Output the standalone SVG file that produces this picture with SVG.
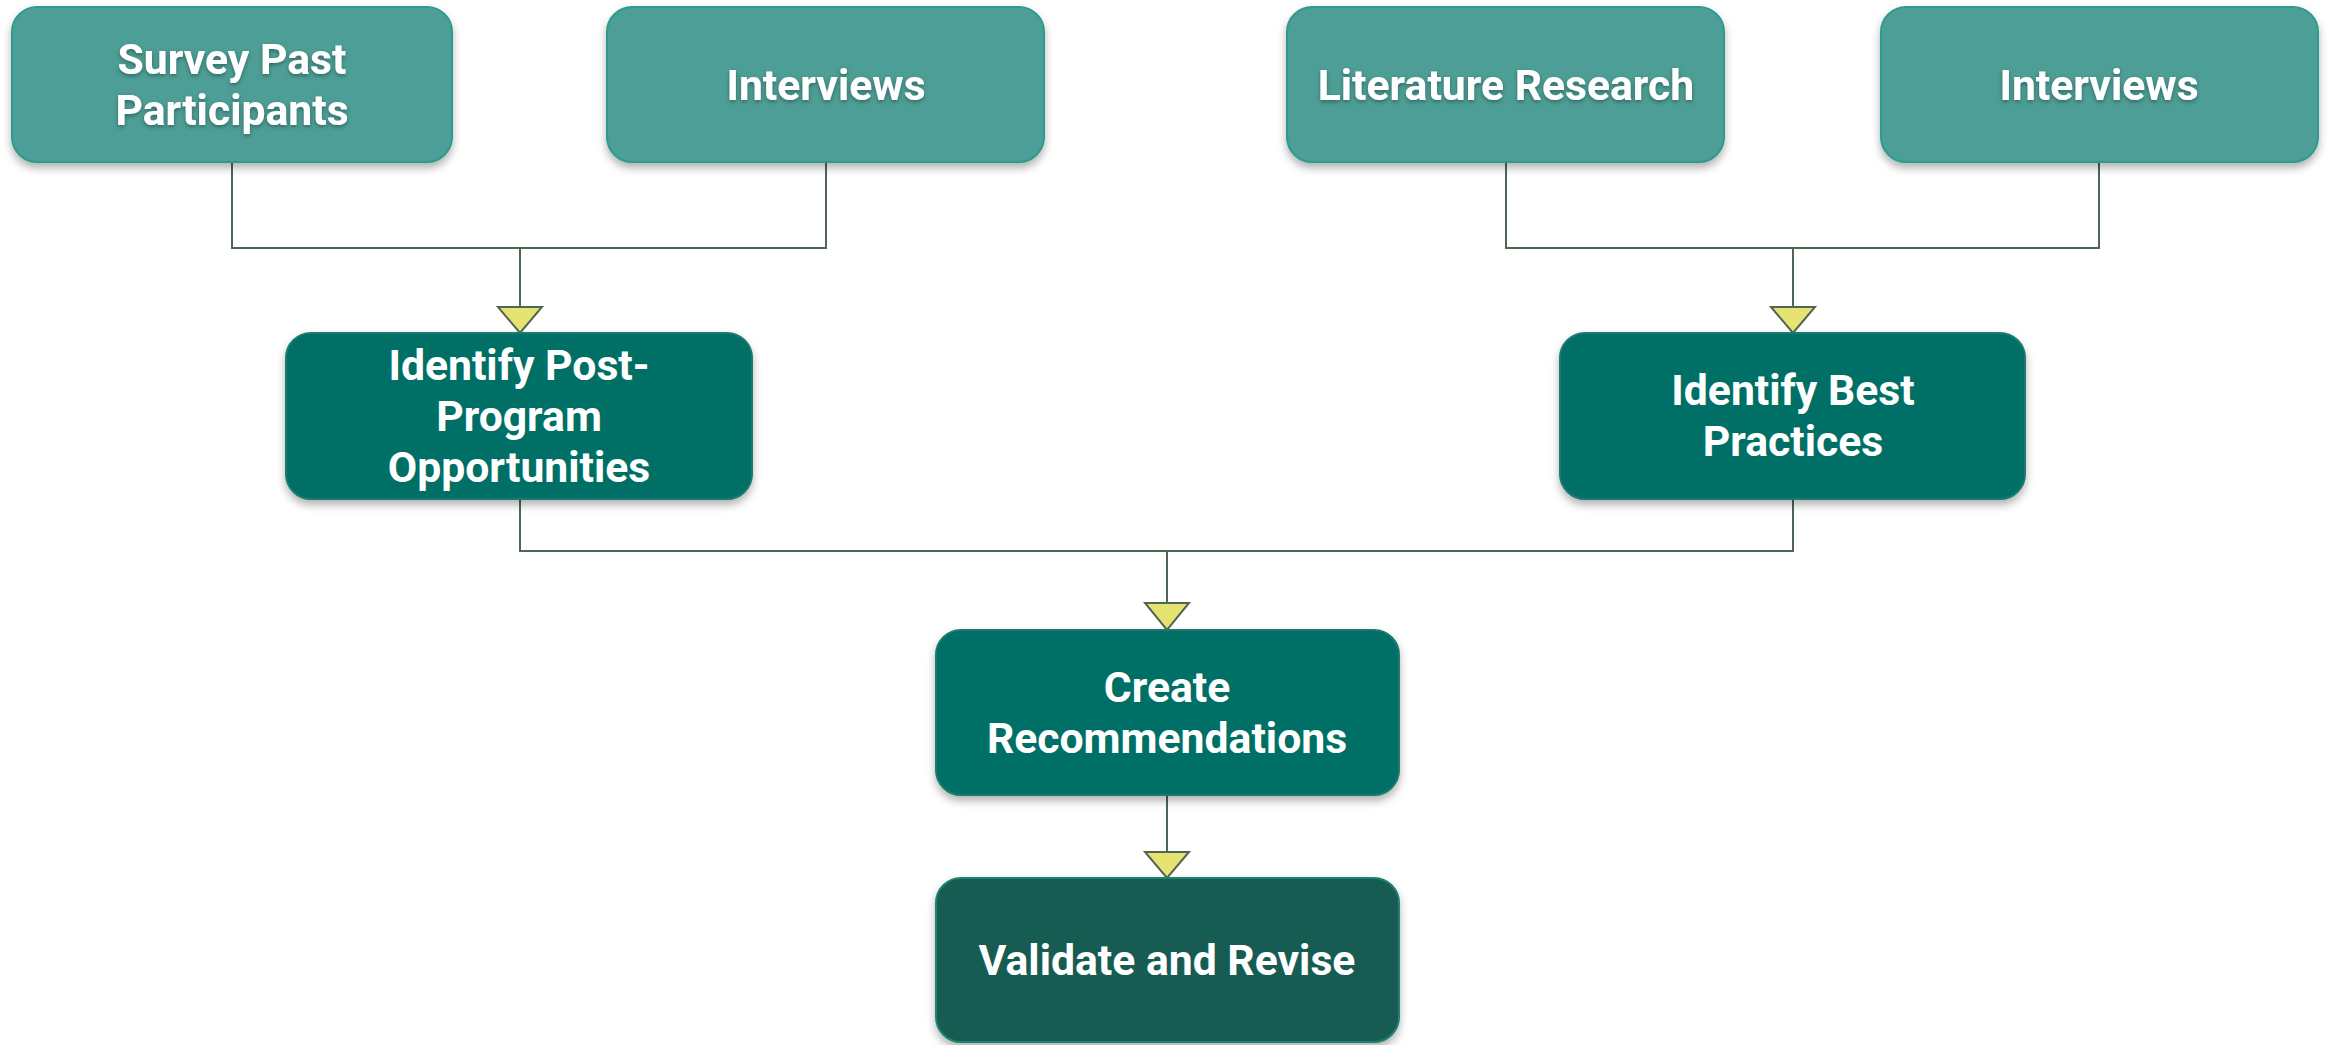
<svg xmlns="http://www.w3.org/2000/svg" width="2333" height="1045" viewBox="0 0 2333 1045">
  <defs>
    <filter id="boxShadow" x="-10%" y="-10%" width="120%" height="130%">
      <feDropShadow dx="0" dy="5" stdDeviation="4" flood-color="#000" flood-opacity="0.3"/>
    </filter>
    <filter id="txtShadow" x="-10%" y="-30%" width="120%" height="160%">
      <feDropShadow dx="0" dy="2" stdDeviation="2" flood-color="#000" flood-opacity="0.35"/>
    </filter>
  </defs>
  <style>
    .top { fill: #4E9E96; stroke: #2E9B8C; stroke-width: 2; filter: url(#boxShadow); }
    .mid { fill: #016F66; stroke: #1A7A6E; stroke-width: 2; filter: url(#boxShadow); }
    .fin { fill: #175B53; stroke: #22806F; stroke-width: 2; filter: url(#boxShadow); }
    .lbl { font-family: Roboto, "Liberation Sans", sans-serif; font-weight: 700; font-size: 42.7px; fill: #FFFFFF; text-anchor: middle; }
    .sh { filter: url(#txtShadow); }
    .conn { fill: none; stroke: #4F6653; stroke-width: 2; }
    .arr { fill: #E6E372; stroke: #4F6653; stroke-width: 2; stroke-linejoin: miter; }
  </style>
  <rect width="2333" height="1045" fill="#FFFFFF"/>

  <g id="connectors">
    <path class="conn" d="M232,162 V248 H826 V162 M520,248 V307"/>
    <path class="conn" d="M1506,162 V248 H2099 V162 M1793,248 V307"/>
    <path class="conn" d="M520,499 V551 H1793 V499 M1167,551 V603"/>
    <path class="conn" d="M1167,795 V852"/>
    <polygon class="arr" points="498,307 542,307 520,333"/>
    <polygon class="arr" points="1771,307 1815,307 1793,333"/>
    <polygon class="arr" points="1145,603 1189,603 1167,630"/>
    <polygon class="arr" points="1145,852 1189,852 1167,878"/>
  </g>

  <g id="survey">
    <rect class="top" x="12" y="7" width="440" height="155" rx="25"/>
    <text class="lbl sh" x="232" y="74">Survey Past</text>
    <text class="lbl sh" x="232" y="125">Participants</text>
  </g>
  <g id="interviews1">
    <rect class="top" x="607" y="7" width="437" height="155" rx="25"/>
    <text class="lbl sh" x="826" y="100">Interviews</text>
  </g>
  <g id="literature">
    <rect class="top" x="1287" y="7" width="437" height="155" rx="25"/>
    <text class="lbl sh" x="1506" y="100">Literature Research</text>
  </g>
  <g id="interviews2">
    <rect class="top" x="1881" y="7" width="437" height="155" rx="25"/>
    <text class="lbl sh" x="2099" y="100">Interviews</text>
  </g>
  <g id="identify-post">
    <rect class="mid" x="286" y="333" width="466" height="166" rx="25"/>
    <text class="lbl" x="519" y="380">Identify Post-</text>
    <text class="lbl" x="519" y="431">Program</text>
    <text class="lbl" x="519" y="482">Opportunities</text>
  </g>
  <g id="identify-best">
    <rect class="mid" x="1560" y="333" width="465" height="166" rx="25"/>
    <text class="lbl" x="1793" y="405">Identify Best</text>
    <text class="lbl" x="1793" y="456">Practices</text>
  </g>
  <g id="create">
    <rect class="mid" x="936" y="630" width="463" height="165" rx="25"/>
    <text class="lbl" x="1167" y="702">Create</text>
    <text class="lbl" x="1167" y="753">Recommendations</text>
  </g>
  <g id="validate">
    <rect class="fin" x="936" y="878" width="463" height="164" rx="25"/>
    <text class="lbl" x="1167" y="975">Validate and Revise</text>
  </g>
</svg>
